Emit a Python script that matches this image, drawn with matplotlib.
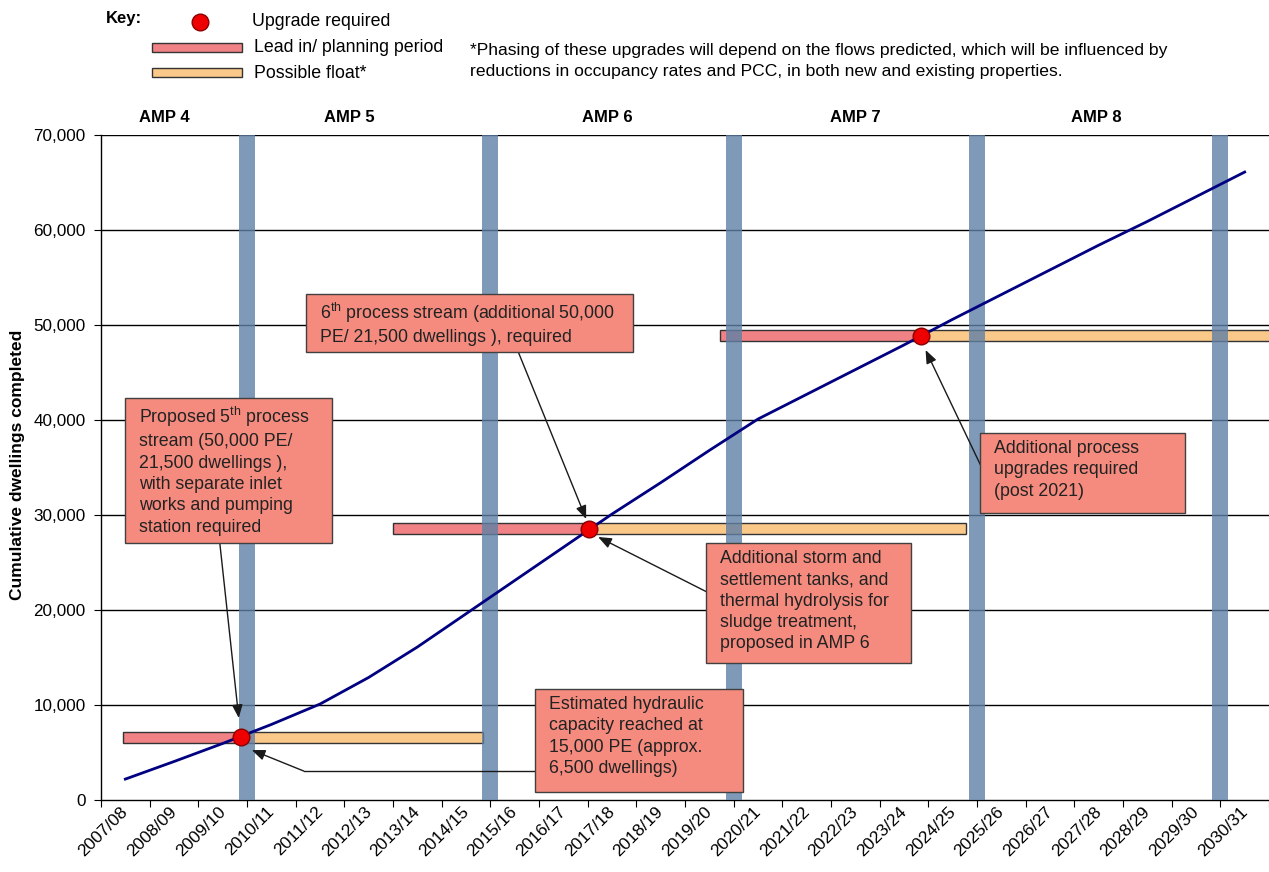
import numpy as np
import matplotlib.pyplot as plt
from matplotlib.patches import Rectangle
from matplotlib.transforms import ScaledTranslation

plt.rcParams['font.family'] = ['Liberation Sans', 'DejaVu Sans']
plt.rcParams['mathtext.fontset'] = 'custom'
plt.rcParams['mathtext.rm'] = 'Liberation Sans'
plt.rcParams['mathtext.default'] = 'rm'

# data
years = ["2007/08", "2008/09", "2009/10", "2010/11", "2011/12", "2012/13",
         "2013/14", "2014/15", "2015/16", "2016/17", "2017/18", "2018/19",
         "2019/20", "2020/21", "2021/22", "2022/23", "2023/24", "2024/25",
         "2025/26", "2026/27", "2027/28", "2028/29", "2029/30", "2030/31"]
dwellings = [2200, 4050, 5950, 7950, 10100, 12900, 16100, 19600, 23100,
             26600, 30100, 33400, 36800, 40100, 42700, 45300, 47900, 50600,
             53200, 55800, 58400, 60900, 63500, 66100]

amp_names = ["AMP 4", "AMP 5", "AMP 6", "AMP 7", "AMP 8"]
amp_bounds = [3, 8, 13, 18, 23]          # category boundaries between AMPs

upgrade_x = [2.87, 10.03, 16.84]
upgrade_y = [6630, 28550, 48850]
lead_start = [0.45, 5.99, 12.72]
float_end = [7.84, 17.78, 25.0]

# colours
navy = "#000080"
band_col = "#5f80a6"
lead_col = "#f08286"
float_col = "#fac98a"
box_col = "#f48b7e"
edge_col = "#404040"
txt_col = "#222222"

W, H = 1269, 872
fig = plt.figure(figsize=(W / 100, H / 100), dpi=100)
ax = fig.add_axes([101 / W, 1 - 800 / H, 1 - 101 / W, (800 - 135) / H])


def px2data(px, py):
    # helper for placing annotation boxes (pixel -> data)
    return (px - 101) / 48.75, (800 - py) / 0.0095


x = np.arange(len(years)) + 0.5
ax.set_xlim(0, 24)
ax.set_ylim(0, 70000)

# gridlines
for v in range(10000, 70001, 10000):
    ax.axhline(v, color="black", lw=1.0, zorder=1)

# lead in / float bars
bar_h = 1160
for xs, xd, xe, yv in zip(lead_start, upgrade_x, float_end, upgrade_y):
    ax.add_patch(Rectangle((xs, yv - bar_h / 2), xd - xs, bar_h, fc=lead_col,
                           ec="#333333", lw=1.0, zorder=2))
    ax.add_patch(Rectangle((xd, yv - bar_h / 2), xe - xd, bar_h, fc=float_col,
                           ec="#333333", lw=1.0, zorder=2, clip_on=True))

# AMP boundaries
for b in amp_bounds:
    ax.axvspan(b - 0.165, b + 0.165, color=band_col, alpha=0.8, lw=0, zorder=3)

ax.plot(x, dwellings, color=navy, lw=2.0, zorder=4)
ax.plot(upgrade_x, upgrade_y, "o", ms=12, mfc="#ee0000", mec="#8b0000",
        mew=1.0, zorder=8)

# AMP labels
amp_lx = [1.3, 5.1, 10.4, 15.5, 20.45]
for lx, name in zip(amp_lx, amp_names):
    ax.text(lx, 1.027, name, transform=ax.get_xaxis_transform(), ha="center",
            va="center", fontsize=12, fontweight="bold")

# axes styling
ax.spines["right"].set_visible(False)
ax.spines["top"].set_visible(False)
ax.spines["left"].set_linewidth(1.0)
ax.spines["bottom"].set_linewidth(1.0)
ax.set_yticks(range(0, 70001, 10000))
ax.set_yticklabels([f"{v:,}" for v in range(0, 70001, 10000)], fontsize=12.3)
ax.set_xticks(range(0, 25))
ax.set_xticklabels([])
ax.set_xticks(x, minor=True)
ax.set_xticklabels(years, minor=True, rotation=45, ha="right",
                   rotation_mode="anchor", fontsize=12.5)
ax.tick_params(axis="x", which="minor", length=0, pad=3)
ax.tick_params(axis="both", which="major", length=5, direction="out")
ax.tick_params(axis="y", pad=6)
for lab in ax.get_xticklabels(minor=True):
    lab.set_transform(lab.get_transform() +
                      ScaledTranslation(-5 / 100, 0, fig.dpi_scale_trans))
fig.text(18 / W, 1 - 465 / H, "Cumulative dwellings completed", rotation=90,
         ha="center", va="center", fontsize=12.5, fontweight="bold")

# annotation boxes
boxes = [
    ((125, 398, 332, 543),
     "Proposed 5$^{th}$ process\nstream (50,000 PE/\n21,500 dwellings ),\n"
     "with separate inlet\nworks and pumping\nstation required"),
    ((306, 294, 634, 352),
     "6$^{th}$ process stream (additional 50,000\nPE/ 21,500 dwellings ), required"),
    ((982, 433, 1187, 513),
     "Additional process\nupgrades required\n(post 2021)"),
    ((707, 543, 912, 663),
     "Additional storm and\nsettlement tanks, and\nthermal hydrolysis for\n"
     "sludge treatment,\nproposed in AMP 6"),
    ((536, 689, 744, 792),
     "Estimated hydraulic\ncapacity reached at\n15,000 PE (approx.\n6,500 dwellings)"),
]
for (l, t, r, b), label in boxes:
    x0, y0 = px2data(l, b)
    x1, y1 = px2data(r, t)
    ax.add_patch(Rectangle((x0, y0), x1 - x0, y1 - y0, fc=box_col, ec=edge_col,
                           lw=1.0, zorder=10))
    tx, ty = px2data(l + 14, t + 7)
    ax.text(tx, ty, label, ha="left", va="top", fontsize=12.8, color=txt_col,
            linespacing=1.33, zorder=11)

arrows = [
    ((220, 543), (239, 718)),
    ((519, 352), (587, 519)),
    ((708, 592), (599, 537)),
    ((982, 465), (927, 350)),
    ((304, 771), (252, 750)),
]
for tail, head in arrows:
    ax.annotate("", xy=px2data(*head), xytext=px2data(*tail),
                arrowprops=dict(arrowstyle="-|>,head_length=0.5,head_width=0.2",
                                color="#1a1a1a", lw=1.0,
                                mutation_scale=16, shrinkA=0, shrinkB=0),
                zorder=9)
ex0, ey0 = px2data(536, 771)
ex1, ey1 = px2data(304, 771)
ax.plot([ex0, ex1], [ey0, ey1], color="#1a1a1a", lw=1.0, zorder=9)

# key
def fx(px):
    return px / W


def fy(py):
    return 1 - py / H


fig.text(fx(106), fy(18), "Key:", fontsize=12, fontweight="bold", va="center")
fig.add_artist(plt.Line2D([fx(200)], [fy(22)], marker="o", ms=12,
                          mfc="#ee0000", mec="#8b0000", mew=1.0))
fig.text(fx(252), fy(22), "Upgrade required", fontsize=12.8, va="center")
fig.add_artist(Rectangle((fx(152), fy(52)), fx(90), 9 / H, fc=lead_col,
                         ec="#333333", lw=1.0, transform=fig.transFigure))
fig.text(fx(254), fy(47), "Lead in/ planning period", fontsize=12.8, va="center")
fig.add_artist(Rectangle((fx(152), fy(77)), fx(90), 9 / H, fc=float_col,
                         ec="#333333", lw=1.0, transform=fig.transFigure))
fig.text(fx(254), fy(73), "Possible float*", fontsize=12.8, va="center")
fig.text(fx(470), fy(61),
         "*Phasing of these upgrades will depend on the flows predicted, which will be influenced by\n"
         "reductions in occupancy rates and PCC, in both new and existing properties.",
         fontsize=12.6, va="center", linespacing=1.45)

fig.savefig("out.png", dpi=100)
